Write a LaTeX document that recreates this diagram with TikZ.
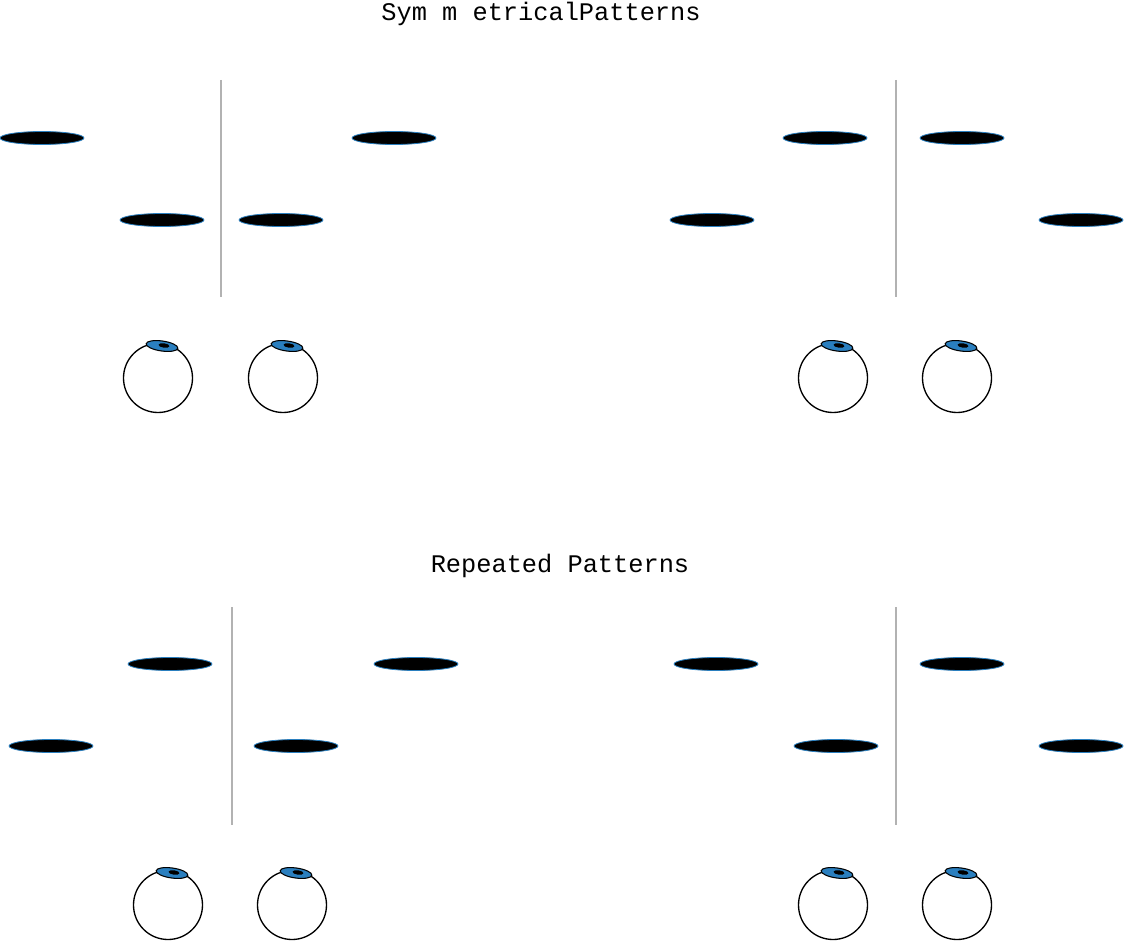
\documentclass[tikz,border=0pt]{standalone}
\usepackage{fontspec}
\newfontfamily\ttl{Liberation Mono}
\definecolor{irisblue}{HTML}{2A7FBF}
\begin{document}
\begin{tikzpicture}[x=0.75pt,y=-0.75pt,
  bar/.style={draw=irisblue,fill=black,line width=0.6pt},
  axis/.style={draw=black!30,line width=1.8pt},
  eyeball/.style={draw=black,line width=1pt,fill=white},
  ttext/.style={font=\ttl\fontsize{19}{22}\selectfont}]
\useasboundingbox (0,0) rectangle (1124,941);
\node[ttext] (t1) at (541,14) {Sym m etricalPatterns};
\node[ttext] (t2) at (560,566) {Repeated Patterns};
\foreach \x/\y in {42/138,162/220,281/220,394/138,712/220,825/138,962/138,1081/220,
                   51/746,170/664,296/746,416/664,716/664,836/746,962/664,1081/746}
  \path[bar] (\x,\y) ellipse [x radius=42,y radius=6.5];
\coordinate (a1) at (221,80); \coordinate (a2) at (221,297);
\coordinate (b1) at (896,80); \coordinate (b2) at (896,297);
\coordinate (c1) at (232,607); \coordinate (c2) at (232,825);
\coordinate (d1) at (896,607); \coordinate (d2) at (896,825);
\draw[axis] (a1)--(a2); \draw[axis] (b1)--(b2);
\draw[axis] (c1)--(c2); \draw[axis] (d1)--(d2);
\foreach \x/\y in {158/378,283/378,833/378,957/378,168/905,292/905,833/905,957/905}{
  \path[eyeball] (\x,\y) circle [radius=34.5];
  \path[draw=black,line width=0.8pt,fill=irisblue,rotate around={-8:(\x+4,\y-32)}]
     (\x+4,\y-32) ellipse [x radius=16,y radius=5];
  \path[fill=black,rotate around={-8:(\x+6,\y-32.5)}] (\x+6,\y-32.5) ellipse [x radius=5.5,y radius=2.2];
}
\end{tikzpicture}
\end{document}
